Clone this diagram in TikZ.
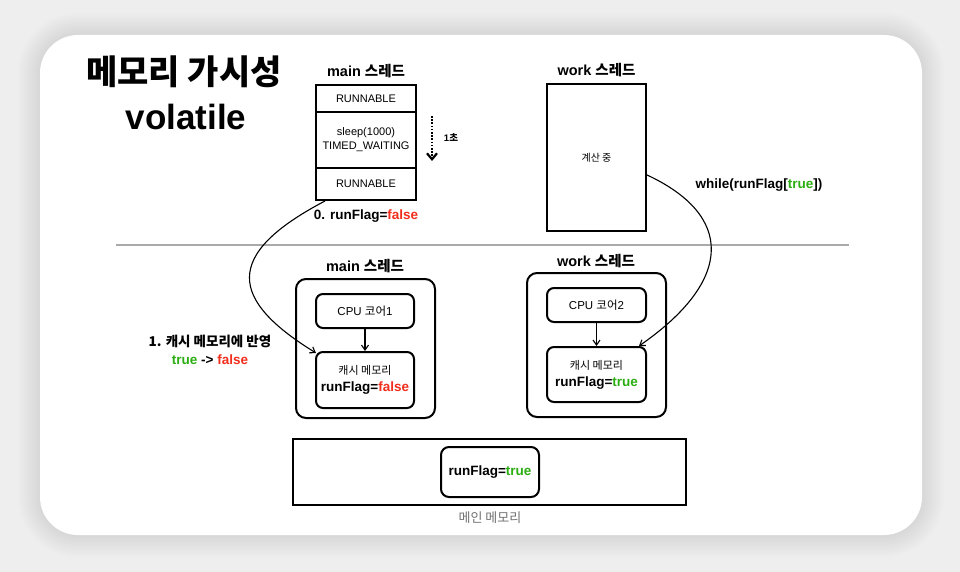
\documentclass[tikz,border=0pt]{standalone}
\usepackage{fontspec}
\setmainfont{Liberation Sans}
\newfontfamily\kr{Noto Sans CJK KR}
\usetikzlibrary{positioning, arrows.meta, calc}
\definecolor{vbg}{HTML}{EEEEEE}
\definecolor{vred}{HTML}{F22E1D}
\definecolor{vgreen}{HTML}{2AAE12}
\definecolor{vgray}{HTML}{707070}
\definecolor{vrule}{HTML}{AAAAAA}

\begin{document}
\begin{tikzpicture}[x=1pt, y=-1pt,
    title/.style={font=\bfseries\fontsize{32}{38}\selectfont, inner sep=0},
    hdr/.style={font=\bfseries\fontsize{14.5}{17}\selectfont, inner sep=0},
    cell/.style={draw, line width=1.8, minimum width=100, inner sep=0, outer sep=0,
                 align=center, font=\fontsize{11}{14}\selectfont},
    flag/.style={font=\bfseries\fontsize{13.5}{18}\selectfont, inner sep=0, align=center},
    core/.style={draw, line width=2, rounded corners=10, minimum width=139},
    unit/.style={draw, line width=2, rounded corners=7, minimum width=98,
                 align=center, inner sep=0},
    link/.style={line width=1.1, -{Straight Barb[length=5pt, width=7pt]}}]
  \useasboundingbox (0,0) rectangle (960,572);
  \fill[vbg] (0,0) rectangle (960,572);
  \foreach \s in {2,4,...,22}
    \fill[black, opacity=0.008, rounded corners=38+\s] (40-\s,35-\s) rectangle (922+\s,535+\s);
  \fill[white, rounded corners=38] (40,35) rectangle (922,535);
  % ---- title ----
  \node[title, font=\bfseries\fontsize{34}{40}\selectfont] (ttl) at (184,72) {{\kr 메모리 가시성}};
  \node[title, font=\bfseries\fontsize{35}{40}\selectfont] (vol) at (186,117) {volatile};
  % ---- main thread states ----
  \node[cell, minimum height=27] (run1) at (366,98.5) {RUNNABLE};
  \node[cell, minimum height=56, below=0pt of run1] (slp) {sleep(1000)\\TIMED\_WAITING};
  \node[cell, minimum height=32, below=0pt of slp] (run2) {RUNNABLE};
  \node[hdr, above=7pt of run1] (mth) {main {\kr 스레드}};
  \coordinate (sa) at (432,116);
  \coordinate (sb) at (432,161);
  \draw[line width=2.2, dash pattern=on 1.6pt off 1.6pt, -{Straight Barb[length=6pt, width=10pt, line width=2.2pt]}] (sa) -- (sb);
  \node[font=\bfseries\fontsize{9.5}{11}\selectfont] (sec) at (451,138) {1{\kr 초}};
  \node[flag] (f0) at (366,216) {0. runFlag=\textcolor{vred}{false}};
  % ---- work thread ----
  \node[cell, minimum width=99, minimum height=147, font=\fontsize{10}{12}\selectfont]
       (wbox) at (596.5,157.5) {{\kr 계산 중}};
  \node[hdr, above=7pt of wbox] (wth) {work {\kr 스레드}};
  \node[flag] (wh) at (759,185) {while(runFlag[\textcolor{vgreen}{true}])};
  % ---- divider ----
  \coordinate (sepl) at (116,245);
  \coordinate (sepr) at (849,245);
  \draw[vrule, line width=1.3] (sepl) -- (sepr);
  % ---- cores ----
  \node[core, minimum height=139] (c1) at (365.5,348.5) {};
  \node[unit, minimum height=34, font=\fontsize{11.5}{14}\selectfont] (cpu1) at (365,311) {CPU {\kr 코어}1};
  \node[unit, minimum height=56] (cache1) at (365,380)
       {{\fontsize{11}{14}\selectfont\kr 캐시 메모리}\\[5pt]
        {\bfseries\fontsize{13.5}{16}\selectfont runFlag=\textcolor{vred}{false}}};
  \node[hdr] (mth2) at (365,266) {main {\kr 스레드}};
  \node[core, minimum height=144] (c2) at (596.5,345) {};
  \node[unit, minimum width=99, minimum height=34, font=\fontsize{11.5}{14}\selectfont] (cpu2) at (596.5,305) {CPU {\kr 코어}2};
  \node[unit, minimum width=99, minimum height=55] (cache2) at (596.5,374.5)
       {{\fontsize{11}{14}\selectfont\kr 캐시 메모리}\\[5pt]
        {\bfseries\fontsize{13.5}{16}\selectfont runFlag=\textcolor{vgreen}{true}}};
  \node[hdr] (wth2) at (596,261) {work {\kr 스레드}};
  \draw[link] (cpu1) -- (cache1);
  \draw[link] (cpu2) -- (cache2);
  \node[flag] (step1) at (210,350) {{\kr 1. 캐시 메모리에 반영}\\
       \textcolor{vgreen}{true} -> \textcolor{vred}{false}};
  % ---- main memory ----
  \node[draw, line width=2, minimum width=393, minimum height=66] (mem) at (489.5,472) {};
  \node[unit, minimum height=50, rounded corners=8, font=\bfseries\fontsize{13.5}{16}\selectfont]
       (memv) at (490,472) {runFlag=\textcolor{vgreen}{true}};
  \node[text=vgray, font=\fontsize{13}{15}\selectfont\kr] (meml) at (490,518) {메인 메모리};
  % ---- flows ----
  \draw[link] ($(run2.south west)+(9,1)$) .. controls (222,255) and (230,300) .. ($(cache1.north west)+(1,2)$);
  \draw[link] ($(wbox.east)+(0,17)$) .. controls (734,215) and (734,280) .. ($(cache2.north east)+(-8,0)$);
\end{tikzpicture}
\end{document}
